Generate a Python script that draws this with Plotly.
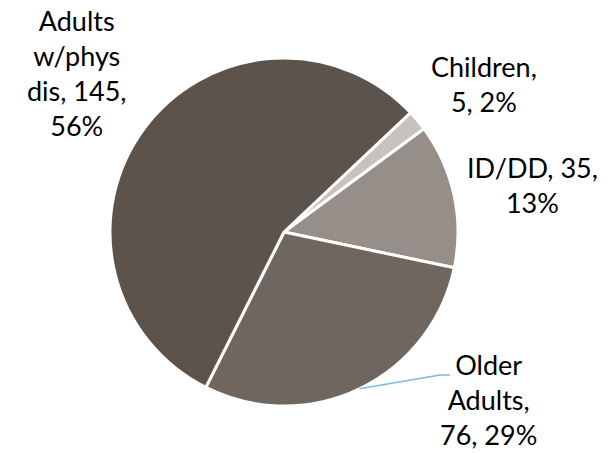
import math
import plotly.graph_objects as go

categories = ["Children", "ID/DD", "Older Adults", "Adults w/phys dis"]
values = [5, 35, 76, 145]
colors = ["#c6c2bf", "#958e89", "#6f6660", "#5c534d"]

W, H = 611, 453
cx, cy, R = 284, 232, 174
rotation = 46.7

total = sum(values)
pcts = [round(v / total * 100) for v in values]

texts = [
    "Children,<br>%d, %d%%" % (values[0], pcts[0]),
    "ID/DD, %d,<br>%d%%" % (values[1], pcts[1]),
    "Older<br>Adults,<br>%d, %d%%" % (values[2], pcts[2]),
    "Adults<br>w/phys<br>dis, %d,<br>%d%%" % (values[3], pcts[3]),
]
# label centres (px)
label_pos = [(484, 84), (532, 185), (488, 399), (76, 73)]

fig = go.Figure(go.Pie(
    labels=categories, values=values, sort=False, direction="clockwise",
    rotation=rotation, marker=dict(colors=colors, line=dict(color="white", width=3)),
    textinfo="none", hoverinfo="label+value+percent", showlegend=False,
    domain=dict(x=[(cx - R) / W, (cx + R) / W], y=[(H - cy - R) / H, (H - cy + R) / H]),
))

anns = []
for t, (px, py) in zip(texts, label_pos):
    anns.append(dict(text=t, x=px / W, y=1 - py / H, xref="paper", yref="paper",
                     xanchor="center", yanchor="middle", showarrow=False, align="center",
                     font=dict(family="Lato", size=27, color="#000000")))

# leader line for Older Adults
cum = sum(values[:2]) + values[2] / 2
ang = math.radians(rotation + cum / total * 360)
sx, sy = cx + R * math.sin(ang), cy - R * math.cos(ang)
ex, ey = 440, 375
shapes = [dict(type="path", xref="paper", yref="paper",
               path="M %f,%f L %f,%f L %f,%f" % (sx / W, 1 - sy / H, ex / W, 1 - ey / H, (ex + 10) / W, 1 - ey / H),
               line=dict(color="#7db7e8", width=1.5))]

fig.update_layout(width=W, height=H, margin=dict(l=0, r=0, t=0, b=0),
                  paper_bgcolor="white", plot_bgcolor="white",
                  annotations=anns, shapes=shapes)
fig.write_html("out.html")
